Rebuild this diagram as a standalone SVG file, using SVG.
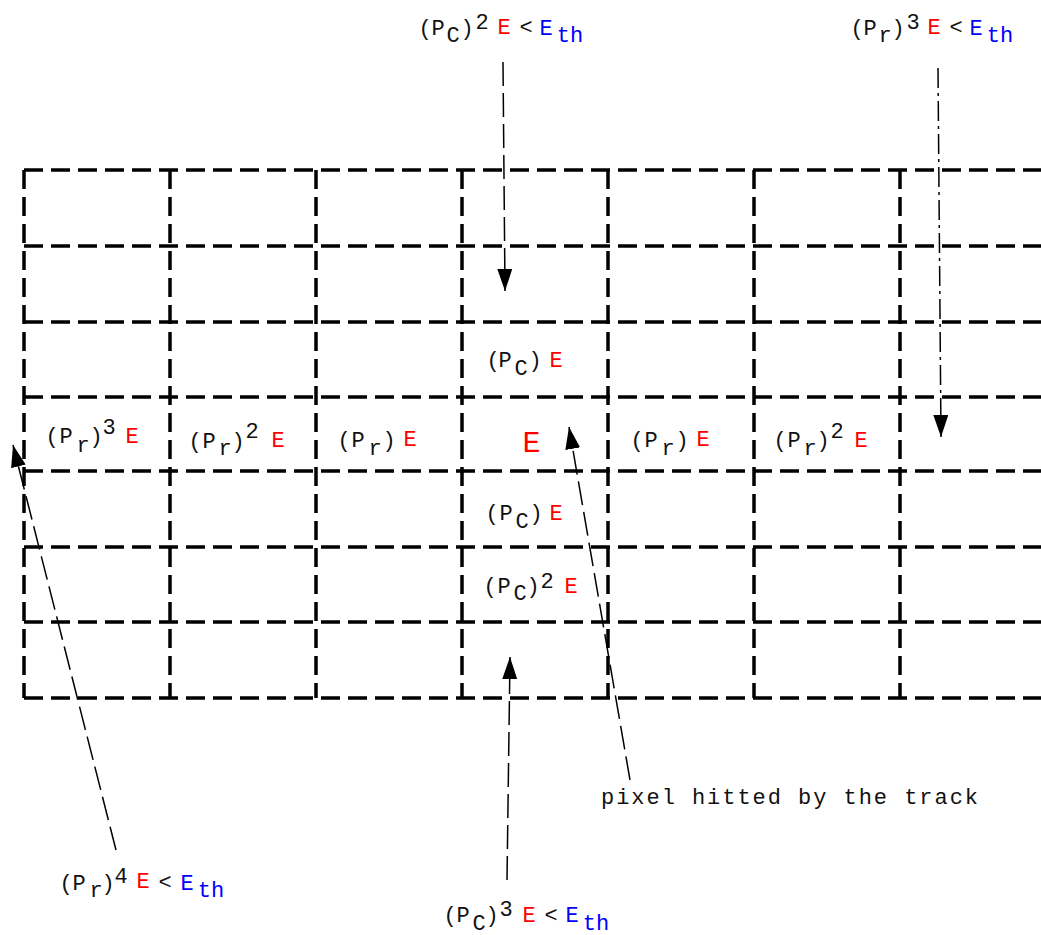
<svg xmlns="http://www.w3.org/2000/svg" width="1041" height="935" viewBox="0 0 1041 935">
<style>
.g{stroke:#000;stroke-width:3.5;stroke-dasharray:19 8;fill:none}
.a{stroke:#000;stroke-width:1.5;stroke-dasharray:24 7;fill:none;marker-end:url(#ah)}
.dd{stroke-dasharray:20 5 3 5}
.t{font-family:"Liberation Mono","Courier New",monospace;font-size:22px;fill:#111;text-anchor:middle}
.r{fill:#f00}
.b{fill:#00f}
</style>
<defs>
<marker id="ah" markerUnits="userSpaceOnUse" markerWidth="22" markerHeight="15" refX="22" refY="7.5" orient="auto">
<path d="M0,0 L22,7.5 L0,15 z" fill="#000"/>
</marker>
</defs>
<rect width="1041" height="935" fill="#fff"/>
<g id="grid">
<line class="g" x1="24" y1="170" x2="1041" y2="170"/>
<line class="g" x1="24" y1="246" x2="1041" y2="246"/>
<line class="g" x1="24" y1="322" x2="1041" y2="322"/>
<line class="g" x1="24" y1="397" x2="1041" y2="397"/>
<line class="g" x1="24" y1="471" x2="1041" y2="471"/>
<line class="g" x1="24" y1="547" x2="1041" y2="547"/>
<line class="g" x1="24" y1="622" x2="1041" y2="622"/>
<line class="g" x1="24" y1="698" x2="1041" y2="698"/>
<line class="g" x1="24" y1="170" x2="24" y2="698"/>
<line class="g" x1="170" y1="170" x2="170" y2="698"/>
<line class="g" x1="316" y1="170" x2="316" y2="698"/>
<line class="g" x1="462" y1="170" x2="462" y2="698"/>
<line class="g" x1="608" y1="170" x2="608" y2="698"/>
<line class="g" x1="754" y1="170" x2="754" y2="698"/>
<line class="g" x1="900" y1="170" x2="900" y2="698"/>
</g>
<g id="connectors">
<line class="a" x1="503" y1="62" x2="505" y2="291"/>
<line class="a dd" x1="938" y1="68" x2="941" y2="437"/>
<line class="a" x1="116" y1="850" x2="13" y2="445"/>
<line class="a" x1="507" y1="880" x2="510" y2="657"/>
<line class="a" x1="630" y1="780" x2="569" y2="427"/>
</g>
<g id="label-pc2-top">
<text class="t"><tspan x="425" y="35">(</tspan><tspan x="438" y="35">P</tspan><tspan x="453" y="42">C</tspan><tspan x="467" y="35">)</tspan><tspan x="482" y="29">2</tspan><tspan class="r" x="504" y="34">E</tspan><tspan x="526" y="34">&lt;</tspan><tspan class="b" x="546" y="35">E</tspan><tspan class="b" x="570" y="42">th</tspan></text>
</g>
<g id="label-pr3-top">
<text class="t"><tspan x="857" y="35">(</tspan><tspan x="870" y="35">P</tspan><tspan x="885" y="42">r</tspan><tspan x="898" y="35">)</tspan><tspan x="913" y="29">3</tspan><tspan class="r" x="934" y="34">E</tspan><tspan x="956" y="34">&lt;</tspan><tspan class="b" x="976" y="35">E</tspan><tspan class="b" x="1000" y="42">th</tspan></text>
</g>
<g id="cell-pr3">
<text class="t"><tspan x="52" y="443">(</tspan><tspan x="66" y="443">P</tspan><tspan x="83" y="452">r</tspan><tspan x="96" y="443">)</tspan><tspan x="109" y="434">3</tspan><tspan class="r" x="132" y="443">E</tspan></text>
</g>
<g id="cell-pr2-left">
<text class="t"><tspan x="195" y="448">(</tspan><tspan x="209" y="448">P</tspan><tspan x="225" y="455">r</tspan><tspan x="238" y="448">)</tspan><tspan x="252" y="438">2</tspan><tspan class="r" x="278" y="447">E</tspan></text>
</g>
<g id="cell-pr-left">
<text class="t"><tspan x="344" y="447">(</tspan><tspan x="358" y="447">P</tspan><tspan x="375" y="455">r</tspan><tspan x="389" y="447">)</tspan><tspan class="r" x="410" y="446">E</tspan></text>
</g>
<g id="cell-center">
<text class="t r" x="531.5" y="452" style="font-size:30px">E</text>
</g>
<g id="cell-pr-right">
<text class="t"><tspan x="637" y="447">(</tspan><tspan x="651" y="447">P</tspan><tspan x="668" y="455">r</tspan><tspan x="682" y="447">)</tspan><tspan class="r" x="703" y="446">E</tspan></text>
</g>
<g id="cell-pr2-right">
<text class="t"><tspan x="780" y="447">(</tspan><tspan x="794" y="447">P</tspan><tspan x="810" y="455">r</tspan><tspan x="823" y="447">)</tspan><tspan x="837" y="438">2</tspan><tspan class="r" x="861" y="447">E</tspan></text>
</g>
<g id="cell-pc-up">
<text class="t"><tspan x="493" y="367">(</tspan><tspan x="505" y="367">P</tspan><tspan x="521" y="375">C</tspan><tspan x="535" y="367">)</tspan><tspan class="r" x="556" y="367">E</tspan></text>
</g>
<g id="cell-pc-down">
<text class="t"><tspan x="492" y="520">(</tspan><tspan x="506" y="520">P</tspan><tspan x="522" y="528">C</tspan><tspan x="536" y="520">)</tspan><tspan class="r" x="556" y="520">E</tspan></text>
</g>
<g id="cell-pc2-down">
<text class="t"><tspan x="490" y="593">(</tspan><tspan x="504" y="593">P</tspan><tspan x="520" y="600">C</tspan><tspan x="533" y="593">)</tspan><tspan x="547" y="588">2</tspan><tspan class="r" x="571" y="593">E</tspan></text>
</g>
<g id="label-pr4">
<text class="t"><tspan x="66" y="890">(</tspan><tspan x="79" y="890">P</tspan><tspan x="96" y="897">r</tspan><tspan x="108" y="890">)</tspan><tspan x="121" y="883">4</tspan><tspan class="r" x="143" y="888">E</tspan><tspan x="165" y="889">&lt;</tspan><tspan class="b" x="187" y="890">E</tspan><tspan class="b" x="211" y="897">th</tspan></text>
</g>
<g id="label-pc3">
<text class="t"><tspan x="450" y="922">(</tspan><tspan x="463" y="922">P</tspan><tspan x="479" y="930">C</tspan><tspan x="492" y="922">)</tspan><tspan x="506" y="916">3</tspan><tspan class="r" x="529" y="922">E</tspan><tspan x="551" y="922">&lt;</tspan><tspan class="b" x="572" y="922">E</tspan><tspan class="b" x="596" y="930">th</tspan></text>
</g>
<g id="label-track">
<text class="t" x="601" y="804" style="text-anchor:start" textLength="377" lengthAdjust="spacing">pixel hitted by the track</text>
</g>
</svg>
